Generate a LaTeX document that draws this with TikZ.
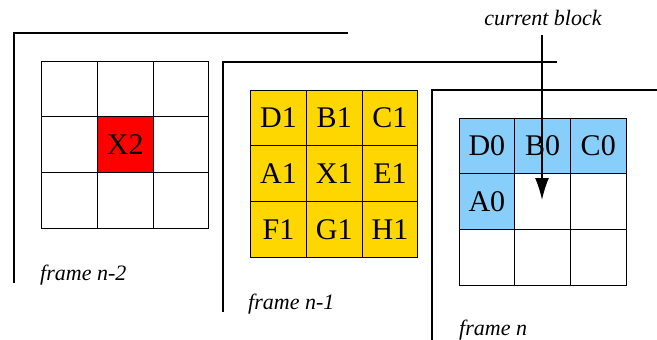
\documentclass[tikz,border=0pt]{standalone}
\usepackage{fontspec}
\setmainfont{Liberation Serif}
\newfontfamily\timesfont{Liberation Serif}
\usetikzlibrary{arrows.meta}
\definecolor{cellyellow}{RGB}{255,215,0}
\definecolor{cellblue}{RGB}{135,206,250}
\definecolor{cellred}{RGB}{255,0,0}
\tikzset{
  cell/.style={draw=black, line width=0.9pt, minimum size=55.7pt, inner sep=0pt, font=\timesfont\fontsize{30}{32}\selectfont},
  framebar/.style={draw=black, line width=2pt},
  framelabel/.style={font=\timesfont\fontsize{22}{24}\selectfont\itshape, anchor=base west, inner sep=0pt},
}
\begin{document}
\begin{tikzpicture}[x=1pt,y=-1pt]
\useasboundingbox (0,0) rectangle (657,340);
% frame n-2
\coordinate (fa1) at (348,33);
\coordinate (fa2) at (14,33);
\coordinate (fa3) at (14,283);
\draw[framebar] (fa1) -- (fa2) -- (fa3);
\foreach \c in {0,1,2}{\foreach \r in {0,1,2}{
  \node[cell] (a\c\r) at ({41.7+27.85+55.7*\c},{61+27.85+55.7*\r}) {};
}}
\node[cell, fill=cellred] (a11) at ({41.7+27.85+55.7},{61+27.85+55.7}) {X2};
\node[framelabel] (la) at (40,280) {frame n-2};
% frame n-1
\coordinate (fb1) at (557,62);
\coordinate (fb2) at (223,62);
\coordinate (fb3) at (223,312);
\draw[framebar] (fb1) -- (fb2) -- (fb3);
\foreach \c/\r/\t in {0/0/D1,1/0/B1,2/0/C1,0/1/A1,1/1/X1,2/1/E1,0/2/F1,1/2/G1,2/2/H1}{
  \node[cell, fill=cellyellow] (b\c\r) at ({250.7+27.85+55.7*\c},{90+27.85+55.7*\r}) {\t};
}
\node[framelabel] (lb) at (248,309) {frame n-1};
% frame n
\coordinate (fc1) at (657,90);
\coordinate (fc2) at (432,90);
\coordinate (fc3) at (432,340);
\draw[framebar] (fc1) -- (fc2) -- (fc3);
\foreach \c in {0,1,2}{\foreach \r in {0,1,2}{
  \node[cell] (c\c\r) at ({459+27.85+55.7*\c},{118+27.85+55.7*\r}) {};
}}
\foreach \c/\r/\t in {0/0/D0,1/0/B0,2/0/C0,0/1/A0}{
  \node[cell, fill=cellblue] (c\c\r) at ({459+27.85+55.7*\c},{118+27.85+55.7*\r}) {\t};
}
\node[framelabel] (lc) at (459,335) {frame n};
% current block
\node[font=\timesfont\fontsize{22}{24}\selectfont\itshape, inner sep=0pt, anchor=base] (cb) at (543,25) {current block};
\coordinate (ar1) at (542,35);
\coordinate (ar2) at (542,200);
\draw[line width=1.5pt, -{Latex[length=22pt,width=14pt]}] (ar1) -- (ar2);
\end{tikzpicture}
\end{document}
